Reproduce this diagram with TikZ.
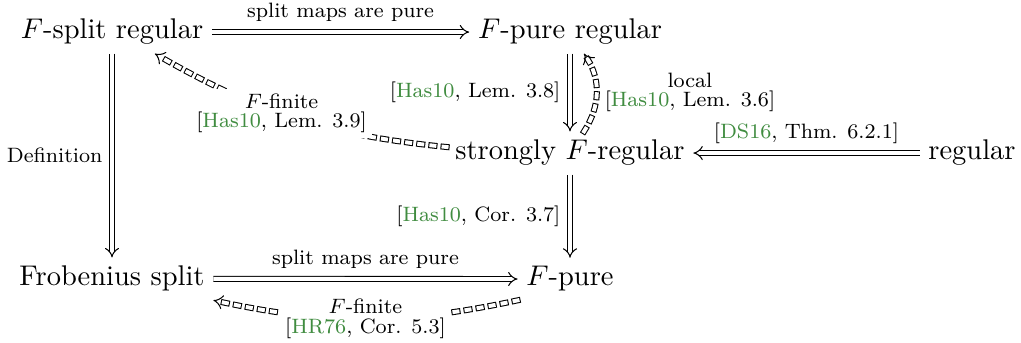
\documentclass[tikz,border=0pt]{standalone}
\usetikzlibrary{arrows.meta}
\definecolor{citegreen}{RGB}{64,140,64}
\newcommand{\cit}[2]{[\textcolor{citegreen}{#1}, #2]}
\tikzset{
  obj/.style={inner sep=3.4pt, outer sep=0pt, font=\fontsize{10.95}{13.6}\selectfont, anchor=base},
  lbl/.style={inner sep=1pt, font=\fontsize{8}{7.4}\selectfont, align=center},
  desc/.style={lbl, fill=white, inner sep=2pt},
  dbl/.style={line width=0.4pt, double, double distance=1.5pt, -{Implies[scale=1.35]}},
  ddbl/.style={dbl, line cap=rect, dash pattern=on 1.2pt off 3.5pt},
}
\begin{document}
\begin{tikzpicture}[x=0.3846pt, y=0.3846pt]
\useasboundingbox (0,0) rectangle (1021,-343);
\node[obj] (fsr) at (112,-39) {$F$-split regular};
\node[obj] (fpr) at (570,-39) {$F$-pure regular};
\node[obj] (sfr) at (570,-160) {strongly $F$-regular};
\node[obj] (reg) at (972,-160) {regular};
\node[obj] (fs)  at (112,-286) {Frobenius split};
\node[obj] (fp)  at (570,-286) {$F$-pure};

\draw[dbl] (fsr) -- node[lbl, above=3pt] (l1) {split maps are pure} (fpr);
\draw[dbl] (fsr) -- node[lbl, left=2.5pt] (l2) {Definition} (fs);
\draw[dbl] (fpr) -- node[lbl, left=2.5pt] (l3) {\cit{Has10}{Lem. 3.8}} (sfr);
\draw[dbl] (sfr) -- node[lbl, left=2.5pt] (l4) {\cit{Has10}{Cor. 3.7}} (fp);
\draw[dbl] (reg) -- node[lbl, above=2.5pt] (l5) {\cit{DS16}{Thm. 6.2.1}} (sfr);
\draw[dbl] (fs) -- node[lbl, above=3pt] (l6) {split maps are pure} (fp);

\draw[ddbl] (sfr) to[bend left=12] node[desc, pos=0.55] (l7) {$F$-finite\\\cit{Has10}{Lem. 3.9}} (fsr);
\draw[ddbl] (sfr) to[bend right=33] node[lbl, right=2pt, pos=0.5] (l8) {local\\\cit{Has10}{Lem. 3.6}} (fpr);
\draw[ddbl] (fp.south west) to[out=192, in=-12] node[desc] (l9) {$F$-finite\\\cit{HR76}{Cor. 5.3}} (fs.south east);
\end{tikzpicture}
\end{document}
